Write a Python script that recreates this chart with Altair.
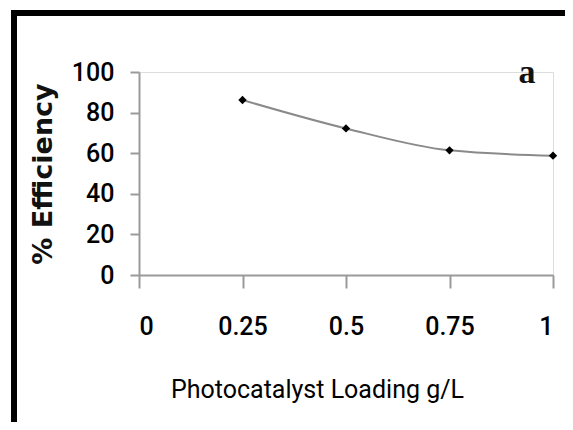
import altair as alt
import pandas as pd

loading = [0.25, 0.5, 0.75, 1.0]
efficiency = [86.2, 72.2, 61.4, 58.8]
x_ticks = [0, 0.25, 0.5, 0.75, 1]
y_ticks = [0, 20, 40, 60, 80, 100]

df = pd.DataFrame({"loading": loading, "efficiency": efficiency})

PLOT_W, PLOT_H = 414, 203
LEFT, TOP = 131, 64
SANS = "Roboto"

x_enc = alt.X("loading:Q", scale=alt.Scale(domain=[0, 1], nice=False),
              axis=alt.Axis(values=x_ticks, title="Photocatalyst Loading g/L",
                            labelExpr="datum.value == 0 ? '0' : format(datum.value, '.2~f')",
                            grid=False, domainColor="#9a9a9a", tickColor="#9a9a9a",
                            domainWidth=2, tickWidth=2, tickSize=13,
                            labelFont=SANS, labelFontSize=25, labelFontWeight=500,
                            labelColor="#000", labelPadding=26,
                            titleFont=SANS, titleFontSize=25, titleX=178,
                            titleFontWeight="normal", titleColor="#000", titlePadding=38))
y_enc = alt.Y("efficiency:Q", scale=alt.Scale(domain=[0, 100], nice=False),
              axis=alt.Axis(values=y_ticks, title="% Efficiency", grid=False,
                            domainColor="#9a9a9a", tickColor="#9a9a9a",
                            domainWidth=2, tickWidth=2, tickSize=9,
                            labelFont=SANS, labelFontSize=25, labelFontWeight=500,
                            labelColor="#000", labelPadding=16,
                            titleFont="DejaVu Sans", titleFontSize=27,
                            titleFontWeight="bold", titleColor="#111", titlePadding=14))

line = alt.Chart(df).mark_line(interpolate="monotone", color="#8a8a8a", strokeWidth=2).encode(
    x=x_enc, y=y_enc)
pts = alt.Chart(df).mark_point(shape="diamond", filled=True, color="#000", size=70, opacity=1).encode(
    x="loading:Q", y="efficiency:Q")

label = alt.Chart(pd.DataFrame({"t": ["a"]})).mark_text(
    font="Liberation Serif", fontSize=34, fontWeight="bold", color="#111",
    align="center", baseline="middle").encode(
    x=alt.value(527 - 8 - LEFT), y=alt.value(73 - 8 - TOP), text="t:N")

frame = alt.Chart(pd.DataFrame({"f": [0]})).mark_rect(
    fill=None, stroke="#000", strokeWidth=6, clip=False).encode(
    x=alt.value(14 - 8 - LEFT), y=alt.value(13 - 8 - TOP),
    x2=alt.value(600 - LEFT), y2=alt.value(460 - TOP))

chart = alt.layer(frame, line, pts, label).properties(
    width=PLOT_W, height=PLOT_H,
    autosize=alt.AutoSizeParams(type="none"),
    padding={"left": LEFT, "top": TOP, "right": 557 - LEFT - PLOT_W, "bottom": 414 - TOP - PLOT_H},
).configure_view(stroke=None).configure(background="white")

chart.save("out.html", embed_options={"renderer": "svg", "actions": False})
